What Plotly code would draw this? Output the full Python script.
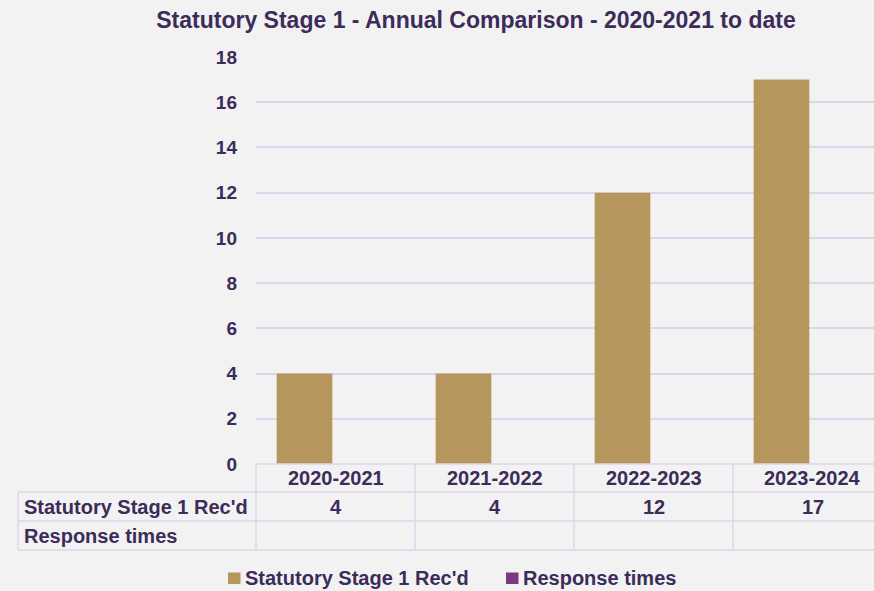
import plotly.graph_objects as go

# Chart data
years = ["2020-2021", "2021-2022", "2022-2023", "2023-2024"]
stage1_received = [4, 4, 12, 17]
response_times = [None, None, None, None]
series_names = ["Statutory Stage 1 Rec'd", "Response times"]
y_ticks = [0, 2, 4, 6, 8, 10, 12, 14, 16, 18]

TEXT = "#3d2b5a"
GRID = "#ddd5ea"
GOLD = "#b5975e"
PURPLE = "#7b3a7e"
BG = "#f2f2f2"
FONT = "Liberation Sans, Arial, sans-serif"

W, H = 874, 591
ML, MR, MT, MB = 256, 0, 57, 127
plot_w = W - ML - MR
plot_h = H - MT - MB
cat_px = 159  # width of one category column in pixels
x_range = [-0.5, -0.5 + plot_w / cat_px]

# clustered bars: each series gets its own slot inside the category
bar_w = 0.35
bar_offsets = [-0.37, -0.37 + bar_w]

fig = go.Figure()
for name, vals, col, off in zip(series_names, [stage1_received, response_times],
                                [GOLD, PURPLE], bar_offsets):
    fig.add_trace(go.Bar(x=years, y=vals, name=name, width=bar_w, offset=off,
                         marker=dict(color=col, line=dict(width=0)), showlegend=False))


def px_x(xd):
    """data x -> paper x"""
    return (xd - x_range[0]) / (x_range[1] - x_range[0])


def py(pix_below):
    """pixels below the plot bottom -> paper y"""
    return -pix_below / plot_h


shapes = []
annotations = []
line = dict(color=GRID, width=1.5)

# data table under the plot
row_edges = [0, 28, 57, 86]
left_px = 18
left_paper = (left_px - ML) / plot_w
shapes.append(dict(type="line", xref="paper", yref="paper", x0=0, x1=1,
                   y0=py(row_edges[0]), y1=py(row_edges[0]), line=line))
for r in row_edges[1:]:
    shapes.append(dict(type="line", xref="paper", yref="paper", x0=left_paper, x1=1,
                       y0=py(r), y1=py(r), line=line))
shapes.append(dict(type="line", xref="paper", yref="paper", x0=left_paper, x1=left_paper,
                   y0=py(row_edges[1]), y1=py(row_edges[3]), line=line))
for i in range(len(years) + 1):
    xp = px_x(i - 0.5)
    if xp <= 1:
        shapes.append(dict(type="line", xref="paper", yref="paper", x0=xp, x1=xp,
                           y0=py(row_edges[0]), y1=py(row_edges[3]), line=line))

cell_font = dict(family=FONT, size=20, color=TEXT, weight="bold")
for i, yr in enumerate(years):
    xp = px_x(i)
    annotations.append(dict(xref="paper", yref="paper", x=xp, y=py(14), text=yr,
                            showarrow=False, font=cell_font, xanchor="center", yanchor="middle"))
    v = stage1_received[i]
    annotations.append(dict(xref="paper", yref="paper", x=xp, y=py(43),
                            text=str(v) if v is not None else "",
                            showarrow=False, font=cell_font, xanchor="center", yanchor="middle"))
for name, mid in zip(series_names, [43, 72]):
    annotations.append(dict(xref="paper", yref="paper", x=left_paper + 4 / plot_w, y=py(mid),
                            text=name, showarrow=False, font=cell_font,
                            xanchor="left", yanchor="middle"))

# legend: swatch + label for each series
legend_y = 578
for name, col, sx in zip(series_names, [GOLD, PURPLE], [228, 506]):
    shapes.append(dict(type="rect", xref="paper", yref="paper",
                       x0=(sx - ML) / plot_w, x1=(sx + 12.5 - ML) / plot_w,
                       y0=py(legend_y + 6 - (H - MB)), y1=py(legend_y - 5.5 - (H - MB)),
                       fillcolor=col, line=dict(width=0)))
    annotations.append(dict(xref="paper", yref="paper", x=(sx + 14.5 - ML) / plot_w,
                            y=py(legend_y - (H - MB)), text=name, showarrow=False,
                            font=cell_font, xanchor="left", yanchor="middle"))

fig.update_layout(
    width=W, height=H,
    margin=dict(l=ML, r=MR, t=MT, b=MB, autoexpand=False),
    paper_bgcolor=BG, plot_bgcolor=BG,
    font=dict(family=FONT, color=TEXT),
    title=dict(text="Statutory Stage 1 - Annual Comparison - 2020-2021 to date",
               x=476 / W, xanchor="center", y=1 - 20 / H, yanchor="middle",
               font=dict(family=FONT, size=23, color=TEXT, weight="bold")),
    barmode="overlay",
    showlegend=False,
    xaxis=dict(range=x_range, showticklabels=False, showgrid=False, zeroline=False,
               showline=False, ticks=""),
    yaxis=dict(range=[0, 18], tickvals=y_ticks, showgrid=True, gridcolor=GRID, gridwidth=1.5,
               zeroline=False, showline=False, ticks="", ticklabelstandoff=18,
               tickfont=dict(family=FONT, size=19, color=TEXT, weight="bold")),
    shapes=shapes, annotations=annotations,
)

fig.write_html("out.html")
